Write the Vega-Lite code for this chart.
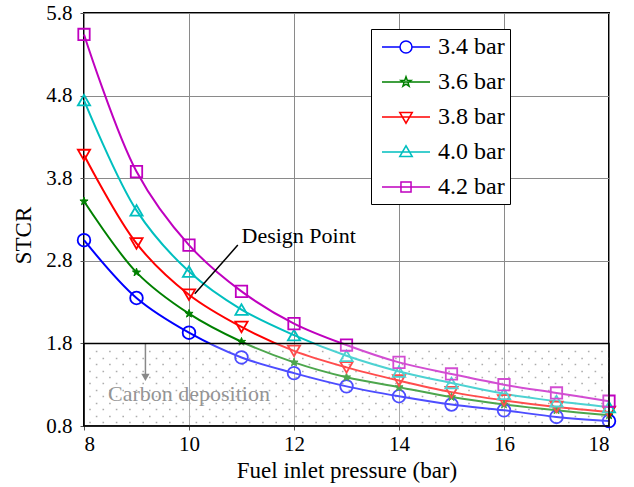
{
  "$schema": "https://vega.github.io/schema/vega-lite/v6.json",
  "width": 525,
  "height": 413,
  "autosize": {"type": "none"},
  "padding": {"left": 84, "top": 13, "right": 25, "bottom": 61},
  "background": "white",
  "config": {
    "font": "Liberation Serif",
    "view": {"stroke": "black", "strokeWidth": 2},
    "axis": {
      "labelFont": "Liberation Serif",
      "titleFont": "Liberation Serif",
      "labelColor": "black",
      "titleColor": "black",
      "titleFontWeight": "normal",
      "labelFontSize": 21,
      "titleFontSize": 23,
      "gridColor": "#8a8a8a",
      "gridOpacity": 1,
      "gridWidth": 1,
      "domain": false,
      "tickColor": "#555555",
      "tickSize": 4
    }
  },
  "resolve": {"scale": {"y": "independent"}},
  "layer": [
    {
      "layer": [
        {
          "data": {"values": [
            {"s": "3.4 bar", "p": 8, "stcr": 3.05}, {"s": "3.4 bar", "p": 9, "stcr": 2.35}, {"s": "3.4 bar", "p": 10, "stcr": 1.93}, {"s": "3.4 bar", "p": 11, "stcr": 1.63}, {"s": "3.4 bar", "p": 12, "stcr": 1.44}, {"s": "3.4 bar", "p": 13, "stcr": 1.28}, {"s": "3.4 bar", "p": 14, "stcr": 1.16}, {"s": "3.4 bar", "p": 15, "stcr": 1.06}, {"s": "3.4 bar", "p": 16, "stcr": 0.99}, {"s": "3.4 bar", "p": 17, "stcr": 0.91}, {"s": "3.4 bar", "p": 18, "stcr": 0.86},
            {"s": "3.6 bar", "p": 8, "stcr": 3.52}, {"s": "3.6 bar", "p": 9, "stcr": 2.66}, {"s": "3.6 bar", "p": 10, "stcr": 2.16}, {"s": "3.6 bar", "p": 11, "stcr": 1.82}, {"s": "3.6 bar", "p": 12, "stcr": 1.57}, {"s": "3.6 bar", "p": 13, "stcr": 1.39}, {"s": "3.6 bar", "p": 14, "stcr": 1.27}, {"s": "3.6 bar", "p": 15, "stcr": 1.15}, {"s": "3.6 bar", "p": 16, "stcr": 1.06}, {"s": "3.6 bar", "p": 17, "stcr": 0.99}, {"s": "3.6 bar", "p": 18, "stcr": 0.93},
            {"s": "3.8 bar", "p": 8, "stcr": 4.08}, {"s": "3.8 bar", "p": 9, "stcr": 3.01}, {"s": "3.8 bar", "p": 10, "stcr": 2.39}, {"s": "3.8 bar", "p": 11, "stcr": 2.0}, {"s": "3.8 bar", "p": 12, "stcr": 1.71}, {"s": "3.8 bar", "p": 13, "stcr": 1.51}, {"s": "3.8 bar", "p": 14, "stcr": 1.35}, {"s": "3.8 bar", "p": 15, "stcr": 1.21}, {"s": "3.8 bar", "p": 16, "stcr": 1.11}, {"s": "3.8 bar", "p": 17, "stcr": 1.03}, {"s": "3.8 bar", "p": 18, "stcr": 0.97},
            {"s": "4.0 bar", "p": 8, "stcr": 4.745}, {"s": "4.0 bar", "p": 9, "stcr": 3.41}, {"s": "4.0 bar", "p": 10, "stcr": 2.67}, {"s": "4.0 bar", "p": 11, "stcr": 2.21}, {"s": "4.0 bar", "p": 12, "stcr": 1.9}, {"s": "4.0 bar", "p": 13, "stcr": 1.65}, {"s": "4.0 bar", "p": 14, "stcr": 1.46}, {"s": "4.0 bar", "p": 15, "stcr": 1.32}, {"s": "4.0 bar", "p": 16, "stcr": 1.19}, {"s": "4.0 bar", "p": 17, "stcr": 1.1}, {"s": "4.0 bar", "p": 18, "stcr": 1.03},
            {"s": "4.2 bar", "p": 8, "stcr": 5.54}, {"s": "4.2 bar", "p": 9, "stcr": 3.88}, {"s": "4.2 bar", "p": 10, "stcr": 2.99}, {"s": "4.2 bar", "p": 11, "stcr": 2.43}, {"s": "4.2 bar", "p": 12, "stcr": 2.04}, {"s": "4.2 bar", "p": 13, "stcr": 1.78}, {"s": "4.2 bar", "p": 14, "stcr": 1.57}, {"s": "4.2 bar", "p": 15, "stcr": 1.43}, {"s": "4.2 bar", "p": 16, "stcr": 1.3}, {"s": "4.2 bar", "p": 17, "stcr": 1.2}, {"s": "4.2 bar", "p": 18, "stcr": 1.1}
          ]},
          "encoding": {
            "x": {"field": "p", "type": "quantitative", "scale": {"domain": [8, 18], "nice": false, "zero": false}, "axis": {"values": [8, 10, 12, 14, 16, 18], "title": "Fuel inlet pressure (bar)", "labelFont": "Liberation Serif", "labelPadding": 3, "titlePadding": 5}},
            "y": {"field": "stcr", "type": "quantitative", "scale": {"domain": [0.8, 5.8], "nice": false, "zero": false}, "axis": {"values": [0.8, 1.8, 2.8, 3.8, 4.8, 5.8], "format": ".1f", "title": "STCR", "labelFont": "Liberation Serif", "labelPadding": 8, "titlePadding": 10, "titleY": 222}},
            "color": {
              "field": "s", "type": "nominal",
              "scale": {"domain": ["3.4 bar", "3.6 bar", "3.8 bar", "4.0 bar", "4.2 bar"], "range": ["#0000ff", "#008000", "#ff0000", "#00bfbf", "#bf00bf"]},
              "legend": {
                "title": null, "orient": "none", "legendX": 287, "legendY": 16,
                "symbolSize": 576, "symbolStrokeWidth": 1.5, "symbolOpacity": 1, "symbolOffset": 17,
                "labelFont": "Liberation Serif", "labelFontSize": 24, "labelColor": "black",
                "labelOffset": 19, "rowPadding": 10, "padding": 5,
                "labelExpr": "datum.label + '\u00a0\u00a0\u00a0'",
                "strokeColor": "black", "fillColor": "white"
              }
            }
          },
          "layer": [
            {"mark": {"type": "line", "interpolate": "catmull-rom", "strokeWidth": 2}},
            {"transform": [{"filter": "datum.s === '3.4 bar'"}], "mark": {"type": "point", "shape": "circle", "filled": false, "size": 160, "strokeWidth": 1.8, "opacity": 1}},
            {"transform": [{"filter": "datum.s === '3.6 bar'"}], "mark": {"type": "point", "shape": "M0,-0.7L0.165,-0.227L0.666,-0.216L0.266,0.087L0.412,0.566L0,0.28L-0.412,0.566L-0.266,0.087L-0.666,-0.216L-0.165,-0.227Z", "filled": false, "fill": "#008000", "size": 150, "strokeWidth": 1, "opacity": 1}},
            {"transform": [{"filter": "datum.s === '3.8 bar'"}], "mark": {"type": "point", "shape": "triangle-down", "filled": false, "size": 150, "strokeWidth": 1.8, "opacity": 1}},
            {"transform": [{"filter": "datum.s === '4.0 bar'"}], "mark": {"type": "point", "shape": "triangle-up", "filled": false, "size": 150, "strokeWidth": 1.8, "opacity": 1}},
            {"transform": [{"filter": "datum.s === '4.2 bar'"}], "mark": {"type": "point", "shape": "square", "filled": false, "size": 130, "strokeWidth": 1.8, "opacity": 1}},
            {
              "mark": {"type": "point", "filled": false, "size": 1, "strokeWidth": 1.5, "opacity": 0},
              "encoding": {
                "shape": {
                  "field": "s", "type": "nominal",
                  "scale": {"domain": ["3.4 bar", "3.6 bar", "3.8 bar", "4.0 bar", "4.2 bar"], "range": [
                    "M-2,0H-0.5M0.5,0H2M-0.5,0A0.5,0.5 0 1,0 0.5,0A0.5,0.5 0 1,0 -0.5,0",
                    "M-2,0H2M0,-0.44L0.103,-0.143L0.418,-0.136L0.167,0.055L0.259,0.356L0,0.176L-0.259,0.356L-0.167,0.055L-0.418,-0.136L-0.103,-0.143Z",
                    "M-2,0H2M-0.52,-0.38L0.52,-0.38L0,0.52Z",
                    "M-2,0H2M-0.52,0.38L0.52,0.38L0,-0.52Z",
                    "M-2,0H2M-0.42,-0.42H0.42V0.42H-0.42Z"
                  ]},
                  "legend": {
                    "title": null, "orient": "none", "legendX": 287, "legendY": 16,
                    "symbolSize": 576, "symbolStrokeWidth": 1.5, "symbolOpacity": 1, "symbolOffset": 17,
                    "labelFont": "Liberation Serif", "labelFontSize": 24, "labelColor": "black",
                    "labelOffset": 19, "rowPadding": 10, "padding": 5,
                    "labelExpr": "datum.label + '\u00a0\u00a0\u00a0'",
                    "strokeColor": "black", "fillColor": "white"
                  }
                },
                "fill": {"condition": {"test": "datum.s === '3.6 bar'", "value": "#008000"}, "value": "transparent"}
              }
            }
          ]
        },
        {
          "data": {"values": [{"x": 10.93, "y": 2.99, "x2": 10.11, "y2": 2.4}]},
          "mark": {"type": "rule", "color": "black", "strokeWidth": 1.5},
          "encoding": {
            "x": {"field": "x", "type": "quantitative"},
            "y": {"field": "y", "type": "quantitative"},
            "x2": {"field": "x2"},
            "y2": {"field": "y2"}
          }
        },
        {
          "data": {"values": [{"x": 11.0, "y": 3.1, "t": "Design Point"}]},
          "mark": {"type": "text", "align": "left", "baseline": "middle", "fontSize": 22, "font": "Liberation Serif", "color": "black"},
          "encoding": {
            "x": {"field": "x", "type": "quantitative"},
            "y": {"field": "y", "type": "quantitative"},
            "text": {"field": "t"}
          }
        },
        {
          "data": {"values": [{"x": 9.17, "y": 1.8, "y2": 1.42}]},
          "mark": {"type": "rule", "color": "#555555", "strokeWidth": 1.5},
          "encoding": {
            "x": {"field": "x", "type": "quantitative"},
            "y": {"field": "y", "type": "quantitative"},
            "y2": {"field": "y2"}
          }
        },
        {
          "data": {"values": [{"x": 9.17, "y": 1.39}]},
          "mark": {"type": "point", "shape": "triangle-down", "filled": true, "size": 70, "color": "#555555", "opacity": 1},
          "encoding": {
            "x": {"field": "x", "type": "quantitative"},
            "y": {"field": "y", "type": "quantitative"}
          }
        },
        {
          "data": {"values": [{"x": 10.0, "y": 1.19, "t": "Carbon deposition"}]},
          "mark": {"type": "text", "align": "center", "baseline": "middle", "fontSize": 22, "font": "Liberation Serif", "color": "#666666"},
          "encoding": {
            "x": {"field": "x", "type": "quantitative"},
            "y": {"field": "y", "type": "quantitative"},
            "text": {"field": "t"}
          }
        }
      ]
    },
    {
      "data": {"values": [{"x1": 8, "x2": 18, "y1": 0.8, "y2": 1.8}]},
      "mark": {"type": "rect", "fill": "white", "fillOpacity": 0.3, "stroke": "black", "strokeWidth": 1.5},
      "encoding": {
        "x": {"field": "x1", "type": "quantitative", "scale": {"domain": [8, 18], "nice": false, "zero": false}},
        "x2": {"field": "x2"},
        "y": {
          "field": "y1", "type": "quantitative",
          "scale": {"domain": [0.8, 5.8], "nice": false, "zero": false},
          "axis": {
            "orient": "right",
            "values": [0.846, 0.924, 1.002, 1.08, 1.159, 1.237, 1.315, 1.393, 1.471, 1.55, 1.628, 1.707],
            "labels": false, "ticks": false, "domain": false, "title": null,
            "grid": true, "gridColor": "#8a8a8a", "gridWidth": 1.6, "gridDash": [1.6, 11.7],
            "gridDashOffset": {"condition": {"test": "round(datum.index * 11) % 2 === 1", "value": 6.6}, "value": 0}
          }
        },
        "y2": {"field": "y2"}
      }
    }
  ]
}
